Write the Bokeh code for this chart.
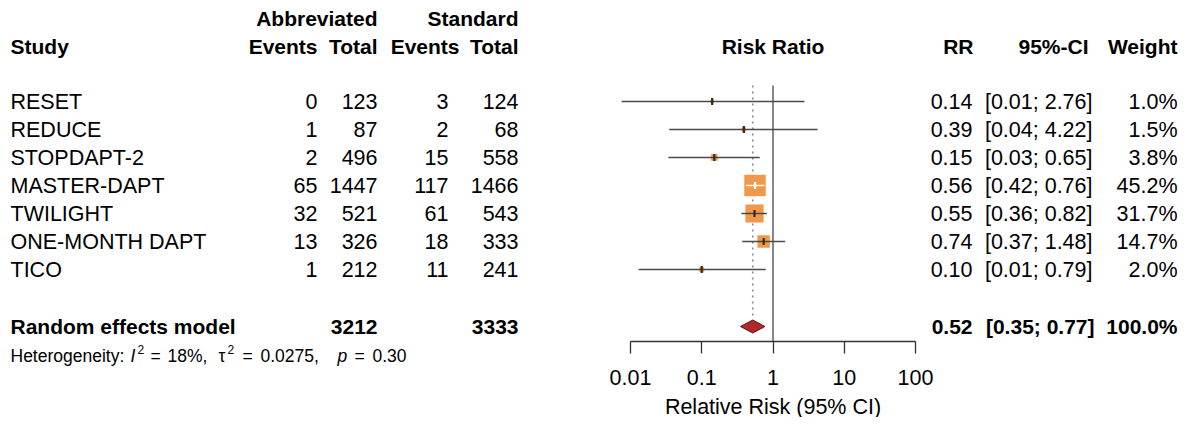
import math
from bokeh.plotting import figure
from bokeh.models import (Range1d, LogScale, LogAxis, FixedTicker,
                          CustomJSTickFormatter, ColumnDataSource)
from bokeh.core.properties import value
from bokeh.embed import file_html
from bokeh.resources import INLINE

# ---------------- data ----------------
studies = ["RESET", "REDUCE", "STOPDAPT-2", "MASTER-DAPT", "TWILIGHT",
           "ONE-MONTH DAPT", "TICO"]
abb_events = [0, 1, 2, 65, 32, 13, 1]
abb_total = [123, 87, 496, 1447, 521, 326, 212]
std_events = [3, 2, 15, 117, 61, 18, 11]
std_total = [124, 68, 558, 1466, 543, 333, 241]
rr = [0.14, 0.39, 0.15, 0.56, 0.55, 0.74, 0.10]
ci_lo = [0.0075, 0.035, 0.034, 0.42, 0.36, 0.37, 0.013]
ci_hi = [2.76, 4.22, 0.65, 0.76, 0.82, 1.48, 0.79]
weight = [1.0, 1.5, 3.8, 45.2, 31.7, 14.7, 2.0]

pooled_label = "Random effects model"
pooled_abb_total = 3212
pooled_std_total = 3333
pooled_rr = 0.52
pooled_lo = 0.35
pooled_hi = 0.77
pooled_weight = 100.0

het_i2 = "18%"
het_tau2 = "0.0275"
het_p = "0.30"

axis_ticks = [0.01, 0.1, 1, 10, 100]
axis_title = "Relative Risk (95% CI)"

# ---------------- layout ----------------
W, H = 1186, 417
FONT = "Liberation Sans"
FS = "21.5px"
BFS = "21px"
HFS = "17.5px"
X001, X100 = 630, 915                 # pixel position of 0.01 and 100
PPD = (X100 - X001) / 4.0
RR_LO = 10 ** (-2 - X001 / PPD)
RR_HI = 10 ** (2 + (W - X100) / PPD)
ROW_Y0, ROW_DY = 101, 28
POOL_Y = 326
HET_Y = 355
HEAD1_Y, HEAD2_Y = 18, 46
AXIS_Y = 341
LINE_TOP = 85

p = figure(width=W, height=H, output_backend="svg", toolbar_location=None,
           x_range=Range1d(0, W), y_range=Range1d(H, 0),
           x_axis_location=None, y_axis_location=None, min_border=0)
p.outline_line_color = None
p.background_fill_color = "white"
p.border_fill_color = "white"
for g in p.grid:
    g.visible = False
p.extra_x_ranges = {"rr": Range1d(RR_LO, RR_HI)}
p.extra_x_scales = {"rr": LogScale()}

ys = [ROW_Y0 + i * ROW_DY for i in range(len(studies))]


def txt(x, y, t, align="left", bold=False, size=None, italic=False,
        rng="default"):
    style = "bold" if bold else ("italic" if italic else "normal")
    if size is None:
        size = BFS if bold else FS
    src = ColumnDataSource(dict(x=list(x), y=list(y), t=list(t)))
    p.text("x", "y", "t", source=src, text_font=value(FONT),
           text_font_size=value(size), text_font_style=style,
           text_align=align, text_baseline="middle", text_color="#000000",
           x_range_name=rng)


# ---- headers
txt([377, 518], [HEAD1_Y] * 2, ["Abbreviated", "Standard"], "right", True)
txt([10], [HEAD2_Y], ["Study"], "left", True)
txt([317, 377, 459, 518], [HEAD2_Y] * 4, ["Events", "Total", "Events", "Total"],
    "right", True)
txt([1], [HEAD2_Y], ["Risk Ratio"], "center", True, rng="rr")
txt([973], [HEAD2_Y], ["RR"], "right", True)
txt([1088], [HEAD2_Y], ["95%-CI"], "right", True)
txt([1177], [HEAD2_Y], ["Weight"], "right", True)

# ---- study rows
txt([10] * len(ys), ys, studies)
txt([317] * len(ys), ys, [str(v) for v in abb_events], "right")
txt([377] * len(ys), ys, [str(v) for v in abb_total], "right")
txt([448] * len(ys), ys, [str(v) for v in std_events], "right")
txt([518] * len(ys), ys, [str(v) for v in std_total], "right")
txt([972] * len(ys), ys, ["%.2f" % v for v in rr], "right")
txt([1092] * len(ys), ys,
    ["[%.2f; %.2f]" % (a, b) for a, b in zip(ci_lo, ci_hi)], "right")
txt([1177] * len(ys), ys, ["%.1f%%" % v for v in weight], "right")

# ---- pooled row
txt([10], [POOL_Y], [pooled_label], "left", True)
txt([377], [POOL_Y], [str(pooled_abb_total)], "right", True)
txt([518], [POOL_Y], [str(pooled_std_total)], "right", True)
txt([972], [POOL_Y], ["%.2f" % pooled_rr], "right", True)
txt([1094], [POOL_Y], ["[%.2f; %.2f]" % (pooled_lo, pooled_hi)], "right", True)
txt([1177], [POOL_Y], ["%.1f%%" % pooled_weight], "right", True)

# ---- heterogeneity line (pieces)
txt([10], [HET_Y], ["Heterogeneity:"], size=HFS)
txt([130], [HET_Y], ["I"], size=HFS, italic=True)
txt([137], [HET_Y - 6], ["2"], size="12px")
txt([150], [HET_Y], ["="], size=HFS)
txt([167], [HET_Y], [het_i2 + ","], size=HFS)
txt([218], [HET_Y], ["τ"], size=HFS)
txt([227], [HET_Y - 6], ["2"], size="12px")
txt([242], [HET_Y], ["="], size=HFS)
txt([260], [HET_Y], [het_tau2 + ","], size=HFS)
txt([337], [HET_Y], ["p"], size=HFS, italic=True)
txt([354], [HET_Y], ["="], size=HFS)
txt([372], [HET_Y], [het_p], size=HFS)

# ---- forest panel
p.segment(x0=[1], y0=[LINE_TOP], x1=[1], y1=[AXIS_Y], x_range_name="rr",
          line_color="#555555", line_width=1.4)
p.segment(x0=[pooled_rr], y0=[LINE_TOP], x1=[pooled_rr], y1=[POOL_Y - 9],
          x_range_name="rr", line_color="#8a8a8a", line_width=1.6,
          line_dash="2 4")

sizes = [21.0 * math.sqrt(w / max(weight)) for w in weight]
inside = [(math.log10(h) - math.log10(l)) * PPD < s
          for l, h, s in zip(ci_lo, ci_hi, sizes)]
line_cols = ["#ffffff" if ins else "#4a4a4a" for ins in inside]
tick_cols = ["#ffffff" if ins else "#3a2a1a" for ins in inside]

fsrc = ColumnDataSource(dict(rr=rr, lo=ci_lo, hi=ci_hi, y=ys, size=sizes,
                             lc=line_cols, tc=tick_cols,
                             t0=[y - 3.5 for y in ys], t1=[y + 3.5 for y in ys]))
p.scatter("rr", "y", size="size", marker="square", source=fsrc,
          x_range_name="rr", fill_color="#EE9A4A", line_color="#EE9A4A",
          line_width=0.5)
p.segment(x0="lo", y0="y", x1="hi", y1="y", source=fsrc, x_range_name="rr",
          line_color="lc", line_width=1.3)
p.segment(x0="rr", y0="t0", x1="rr", y1="t1", source=fsrc, x_range_name="rr",
          line_color="tc", line_width=2.2)

# pooled diamond
p.patch(x=[pooled_lo, pooled_rr, pooled_hi, pooled_rr],
        y=[POOL_Y, POOL_Y - 6.5, POOL_Y, POOL_Y + 6.5], x_range_name="rr",
        fill_color="#B02A2A", line_color="#5a1212", line_width=1)

# axis
p.segment(x0=[min(axis_ticks)], y0=[AXIS_Y], x1=[max(axis_ticks)], y1=[AXIS_Y],
          x_range_name="rr", line_color="#333333", line_width=1.3)
ax = LogAxis(x_range_name="rr", fixed_location=AXIS_Y,
             ticker=FixedTicker(ticks=axis_ticks),
             formatter=CustomJSTickFormatter(code="return tick.toString()"))
ax.axis_line_color = None
ax.major_tick_in = 0
ax.major_tick_out = 12
ax.major_tick_line_color = "#333333"
ax.major_tick_line_width = 1.3
ax.minor_tick_line_color = None
ax.major_label_text_font = FONT
ax.major_label_text_font_size = FS
ax.major_label_text_color = "#000000"
ax.major_label_standoff = 16
p.add_layout(ax, "below")

txt([1], [406], [axis_title], "center", rng="rr")

open("out.html", "w").write(file_html(p, INLINE))
